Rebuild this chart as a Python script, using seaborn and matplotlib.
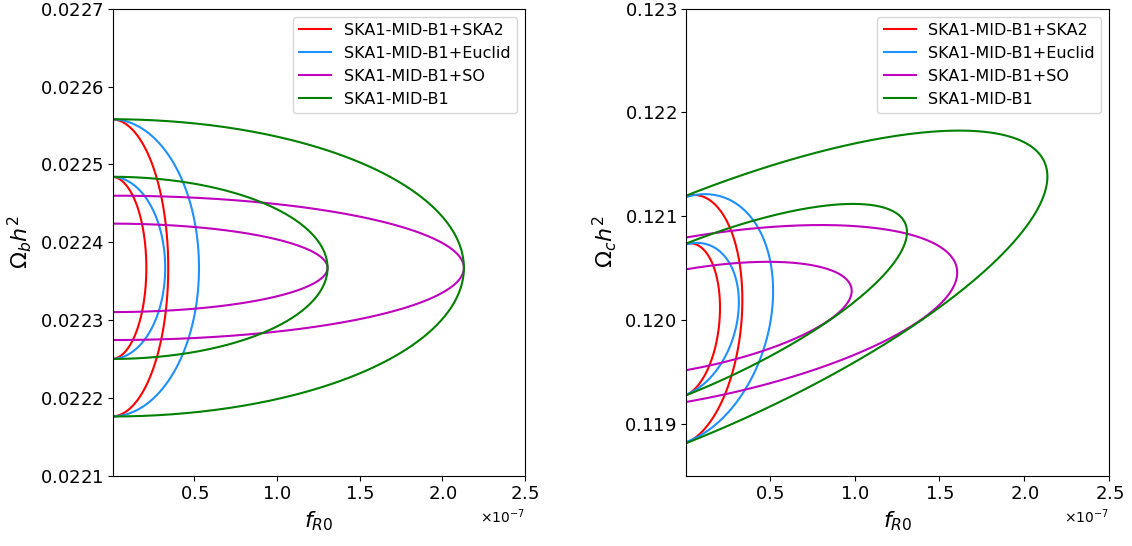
import numpy as np
import pandas as pd
import matplotlib
matplotlib.use("Agg")
import matplotlib.pyplot as plt
import seaborn as sns

# ---- data (1-sigma marginal errors, correlation, fiducials) ----
labels = ["SKA1-MID-B1+SKA2", "SKA1-MID-B1+Euclid", "SKA1-MID-B1+SO", "SKA1-MID-B1"]
colors = ["#ff0000", "#1e90ff", "#bf00bf", "#008000"]

fid_fR0 = 0.0
fid_obh2 = 0.022367
fid_och2 = 0.1200

# left panel: f_R0 vs Omega_b h^2
sig_fR0_b = [0.138e-7, 0.213e-7, 0.859e-7, 0.859e-7]
sig_obh2 = [7.70e-5, 7.70e-5, 3.74e-5, 7.70e-5]
rho_b = [0.0, 0.0, 0.0, 0.0]

# right panel: f_R0 vs Omega_c h^2
sig_fR0_c = [0.137e-7, 0.210e-7, 0.647e-7, 0.861e-7]
sig_och2 = [4.86e-4, 4.89e-4, 3.69e-4, 7.36e-4]
rho_c = [0.16, 0.23, 0.50, 0.757]

alphas = [1.52, 2.48]  # 1-sigma and 2-sigma contour scalings

yticks_b = [0.0221, 0.0222, 0.0223, 0.0224, 0.0225, 0.0226, 0.0227]
yticks_c = [0.119, 0.120, 0.121, 0.122, 0.123]
xticks = [0.5e-7, 1.0e-7, 1.5e-7, 2.0e-7, 2.5e-7]

plt.rcParams["axes.formatter.use_mathtext"] = True


def ellipse_frame(cx, cy, sx, sy, rho, label):
    # start/end at the far (negative f_R0) side, which lies outside the axes
    t = np.linspace(np.pi, 3 * np.pi, 600)
    rows = []
    for k, a in enumerate(alphas):
        x = cx + a * sx * np.cos(t)
        y = cy + a * sy * (rho * np.cos(t) + np.sqrt(1 - rho ** 2) * np.sin(t))
        rows.append(pd.DataFrame({"x": x, "y": y, "label": label, "level": k}))
    return pd.concat(rows, ignore_index=True)


fig = plt.figure(figsize=(11.32, 5.46), dpi=100)
ax1 = fig.add_axes([0.1001, 0.1288, 0.3637, 0.8553])
ax2 = fig.add_axes([0.6063, 0.1288, 0.3737, 0.8553])

panels = [
    (ax1, fid_obh2, sig_fR0_b, sig_obh2, rho_b, (0.0221, 0.0227), yticks_b, r"$\Omega_b h^2$"),
    (ax2, fid_och2, sig_fR0_c, sig_och2, rho_c, (0.1185, 0.123), yticks_c, r"$\Omega_c h^2$"),
]

for ax, cy, sxs, sys_, rhos, ylim, yt, ylab in panels:
    for lab, col, sx, sy, r in zip(labels, colors, sxs, sys_, rhos):
        df = ellipse_frame(fid_fR0, cy, sx, sy, r, lab)
        for k in range(len(alphas)):
            sub = df[df["level"] == k]
            sns.lineplot(data=sub, x="x", y="y", sort=False, estimator=None,
                         color=col, lw=1.5, ax=ax,
                         label=lab if k == 0 else None)
    ax.set_xlim(1e-9, 2.5e-7)
    ax.set_ylim(*ylim)
    ax.set_xticks(xticks)
    ax.set_yticks(yt)
    ax.tick_params(labelsize=13)
    ax.xaxis.get_offset_text().set_fontsize(10)
    ax.set_xlabel(r"$f_{R0}$", fontsize=16)
    ax.set_ylabel(ylab, fontsize=16)
    ax.legend(loc="upper right", fontsize=11.5)

fig.savefig("out.png", dpi=100)
